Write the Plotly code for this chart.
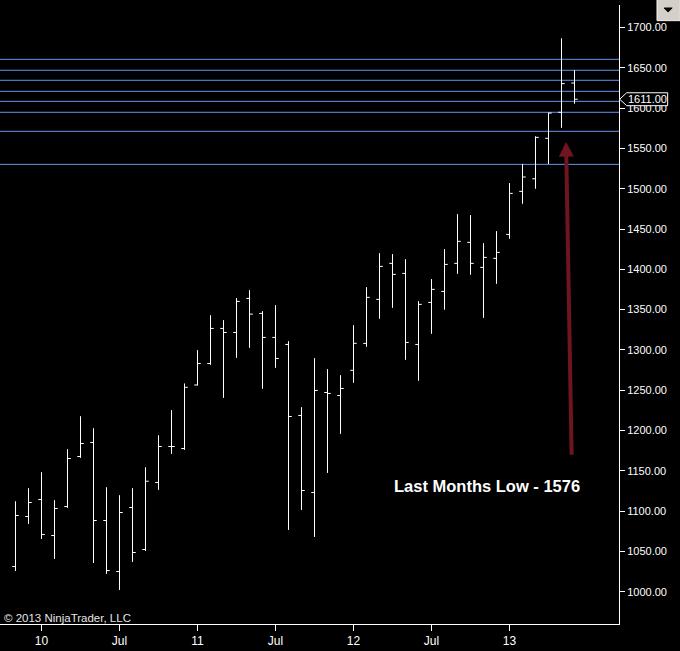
import plotly.graph_objects as go

# monthly bars, Nov 2009 .. Jun 2013
months = ["2009-11", "2009-12",
          "2010-01", "2010-02", "2010-03", "2010-04", "2010-05", "2010-06",
          "2010-07", "2010-08", "2010-09", "2010-10", "2010-11", "2010-12",
          "2011-01", "2011-02", "2011-03", "2011-04", "2011-05", "2011-06",
          "2011-07", "2011-08", "2011-09", "2011-10", "2011-11", "2011-12",
          "2012-01", "2012-02", "2012-03", "2012-04", "2012-05", "2012-06",
          "2012-07", "2012-08", "2012-09", "2012-10", "2012-11", "2012-12",
          "2013-01", "2013-02", "2013-03", "2013-04", "2013-05", "2013-06"]
opens = [1031.3, 1093.3,
         1114.4, 1069.8, 1105.7, 1167.8, 1185.2, 1088.4,
         1025.1, 1104.5, 1052.4, 1135.5, 1180.2, 1177.7,
         1256.5, 1283.2, 1326.7, 1321.7, 1363.9, 1345.3,
         1315.5, 1306.8, 1218.7, 1123.1, 1247.2, 1243.5,
         1274.7, 1308.1, 1362.7, 1407.4, 1394.9, 1306.8,
         1358.9, 1372.6, 1407.4, 1433.4, 1402.4, 1413.6,
         1443.3, 1496.7, 1512.3, 1562.5, 1594.8, 1631.1]
highs = [1112.3, 1128.5,
         1148.3, 1113.6, 1176.9, 1217.8, 1202.9, 1129.7,
         1119.8, 1128.5, 1154.5, 1194.2, 1225.3, 1258.4,
         1299.7, 1343.2, 1337.0, 1364.3, 1374.2, 1348.1,
         1355.6, 1310.9, 1229.0, 1289.8, 1276.2, 1268.7,
         1330.8, 1377.9, 1420.1, 1418.9, 1412.7, 1360.6,
         1387.9, 1425.1, 1468.5, 1467.3, 1432.5, 1447.4,
         1507.0, 1530.6, 1565.0, 1594.3, 1686.6, 1646.9]
lows = [1025.8, 1084.2,
        1065.5, 1040.7, 1104.0, 1166.1, 1035.7, 1022.1,
        1002.2, 1037.0, 1050.6, 1126.4, 1171.0, 1176.0,
        1255.9, 1281.5, 1240.5, 1290.2, 1302.6, 1251.7,
        1277.8, 1076.7, 1101.5, 1068.0, 1147.4, 1195.9,
        1259.2, 1303.8, 1338.6, 1352.2, 1287.7, 1261.6,
        1320.0, 1349.8, 1394.4, 1393.2, 1339.8, 1382.0,
        1437.9, 1481.3, 1499.9, 1530.6, 1575.6, 1605.4]
closes = [1094.6, 1110.7,
          1071.0, 1103.3, 1165.3, 1183.9, 1088.4, 1026.3,
          1098.3, 1048.7, 1137.1, 1180.2, 1180.2, 1253.6,
          1283.2, 1326.7, 1321.7, 1360.2, 1344.4, 1315.5,
          1289.4, 1217.4, 1125.6, 1249.7, 1246.0, 1252.2,
          1308.2, 1365.2, 1403.6, 1393.7, 1309.3, 1356.5,
          1375.1, 1406.1, 1434.7, 1407.4, 1414.8, 1421.0,
          1494.2, 1514.5, 1563.7, 1593.9, 1630.3, 1611.0]

# horizontal price levels drawn across the chart
levels = [1660.5, 1646.9, 1634.5, 1620.8, 1608.4, 1594.8, 1571.2, 1530.2]

tick_months = ["2010-01", "2010-07", "2011-01", "2011-07", "2012-01", "2012-07", "2013-01"]
tick_labels = ["10", "Jul", "11", "Jul", "12", "Jul", "13"]
y_ticks = [1000, 1050, 1100, 1150, 1200, 1250, 1300, 1350, 1400, 1450,
           1500, 1550, 1600, 1650, 1700]

FONT = "Liberation Sans, Arial, sans-serif"
LEVEL_COLOR = "#6495ED"
ARROW_COLOR = "#6e1520"

x_idx = list(range(len(months)))

fig = go.Figure()

fig.add_trace(go.Ohlc(
    x=x_idx, open=opens, high=highs, low=lows, close=closes,
    increasing_line_color="white", decreasing_line_color="white",
    line_width=1, tickwidth=0.25, hoverinfo="skip", showlegend=False,
))

for lv in levels:
    fig.add_shape(type="line", xref="paper", x0=0.0, x1=1.0, yref="y", y0=lv, y1=lv,
                  line=dict(color=LEVEL_COLOR, width=1), layer="below")

# arrow pointing at last month's low
fig.add_annotation(
    x=42.35, y=1558.3, ax=42.78, ay=1168.2, xref="x", yref="y", axref="x", ayref="y",
    showarrow=True, arrowhead=2, arrowsize=0.75, arrowwidth=4, arrowcolor=ARROW_COLOR, text="",
)
fig.add_annotation(
    x=0.7875, y=0.2237, xref="paper", yref="paper", xanchor="center", yanchor="middle",
    showarrow=False, text="Last Months Low - 1576",
    font=dict(family=FONT, size=16.5, color="white", weight="bold"),
)
fig.add_annotation(
    x=0.004, y=0.009, xref="paper", yref="paper", xanchor="left", yanchor="middle",
    showarrow=False, text="© 2013 NinjaTrader, LLC",
    font=dict(family=FONT, size=11.5, color="#e6e6e6"),
)

# last price marker on the axis
last = closes[-1]
fig.add_shape(
    type="path", xref="paper", yref="y",
    path=(f"M 1.0011,{last} L 1.0124,{last + 8} L 1.0786,{last + 8} "
          f"L 1.0786,{last - 8} L 1.0124,{last - 8} Z"),
    line=dict(color="white", width=1), fillcolor="black",
)
fig.add_annotation(
    x=1.0455, y=last, xref="paper", yref="y", xanchor="center", yanchor="middle",
    showarrow=False, text=f"{last:.2f}", font=dict(family=FONT, size=11, color="white"),
)

# dropdown button in the corner
fig.add_shape(type="rect", xref="paper", yref="paper", x0=1.0614, x1=1.099, y0=0.9747, y1=1.012,
              line=dict(color="#f4f4f4", width=1), fillcolor="#d4d0c8")
fig.add_shape(type="path", xref="paper", yref="paper",
              path="M 1.0730,0.99515 L 1.0859,0.99515 L 1.0794,0.98869 Z",
              line=dict(color="black", width=1), fillcolor="black")

fig.update_layout(
    width=680, height=651,
    margin=dict(l=0, r=61, t=5, b=27),
    paper_bgcolor="black", plot_bgcolor="black",
    showlegend=False, hovermode=False,
    font=dict(family=FONT, color="white", size=11),
)
# 13 px per month, bar centres on half pixels so the 1px lines stay crisp
fig.update_xaxes(
    range=[-1.1923, 46.423], showgrid=False, zeroline=False,
    showline=True, linecolor="white", linewidth=1,
    ticks="outside", ticklen=6, tickcolor="white",
    tickvals=[months.index(m) for m in tick_months], ticktext=tick_labels,
    tickfont=dict(family=FONT, size=12, color="white"),
    rangeslider_visible=False,
)
fig.update_yaxes(
    range=[960.0, 1727.9], side="right", showgrid=False, zeroline=False,
    showline=True, linecolor="white", linewidth=1,
    ticks="outside", ticklen=5, tickcolor="white",
    tickvals=y_ticks, tickformat=".2f",
    tickfont=dict(family=FONT, size=11, color="white"),
)

# drop the default page margin so the figure fills the window
fig.write_html("out.html", config={"displayModeBar": False},
               post_script="document.body.style.margin = '0';")
